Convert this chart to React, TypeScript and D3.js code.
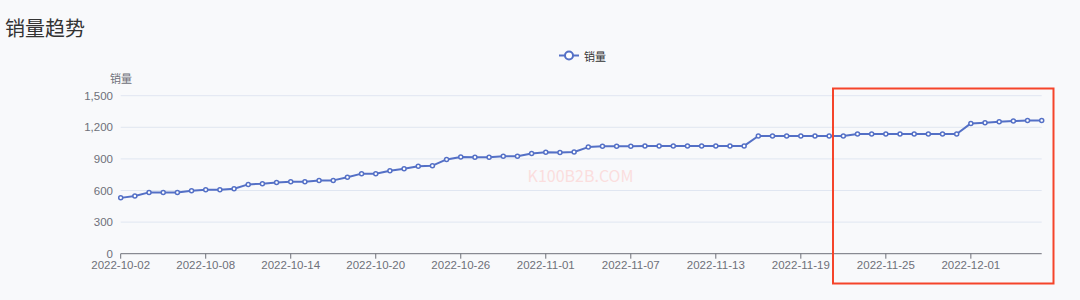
import React from "react";
import * as d3 from "d3";

const dates = [
  "2022-10-02","2022-10-03","2022-10-04","2022-10-05","2022-10-06","2022-10-07","2022-10-08","2022-10-09","2022-10-10","2022-10-11",
  "2022-10-12","2022-10-13","2022-10-14","2022-10-15","2022-10-16","2022-10-17","2022-10-18","2022-10-19","2022-10-20","2022-10-21",
  "2022-10-22","2022-10-23","2022-10-24","2022-10-25","2022-10-26","2022-10-27","2022-10-28","2022-10-29","2022-10-30","2022-10-31",
  "2022-11-01","2022-11-02","2022-11-03","2022-11-04","2022-11-05","2022-11-06","2022-11-07","2022-11-08","2022-11-09","2022-11-10",
  "2022-11-11","2022-11-12","2022-11-13","2022-11-14","2022-11-15","2022-11-16","2022-11-17","2022-11-18","2022-11-19","2022-11-20",
  "2022-11-21","2022-11-22","2022-11-23","2022-11-24","2022-11-25","2022-11-26","2022-11-27","2022-11-28","2022-11-29","2022-11-30",
  "2022-12-01","2022-12-02","2022-12-03","2022-12-04","2022-12-05","2022-12-06",
];

const sales = [
  530, 548, 582, 582, 580, 598, 608, 608, 617, 658,
  665, 677, 684, 684, 696, 696, 725, 760, 760, 788,
  807, 830, 836, 895, 918, 916, 916, 925, 925, 952,
  962, 960, 966, 1012, 1020, 1020, 1020, 1023, 1023, 1023,
  1023, 1023, 1023, 1023, 1023, 1117, 1117, 1117, 1117, 1117,
  1117, 1117, 1137, 1137, 1137, 1137, 1137, 1137, 1137, 1137,
  1237, 1244, 1253, 1259, 1265, 1265,
];

const yTicks = [0, 300, 600, 900, 1200, 1500];
const title = "销量趋势";
const seriesName = "销量";

const W = 1080;
const H = 300;
const FONT = "'Noto Sans CJK SC', 'Noto Sans', sans-serif";
const NUM_FONT = "'Liberation Sans', Arial, sans-serif";

export default function App() {
  const x = d3.scalePoint<string>().domain(dates).range([120.7, 1041.7]);
  const y = d3.scaleLinear().domain([0, 1500]).range([253.7, 95.7]);
  const line = d3
    .line<number>()
    .x((_, i) => x(dates[i]) as number)
    .y((d) => y(d));
  const fmt = d3.format(",");
  const xTickDates = dates.filter((_, i) => i % 6 === 0);

  return (
    <svg
      width={W}
      height={H}
      style={{ position: "absolute", left: 0, top: 0, background: "#f8f9fb" }}
      fontFamily={FONT}
    >
      <rect x={0} y={0} width={W} height={H} fill="#f8f9fb" />
      <text x={5} y={36} fontSize={20} fill="#333">
        {title}
      </text>

      {/* legend */}
      <g>
        <line x1={559} x2={579} y1={55.5} y2={55.5} stroke="#5470c6" strokeWidth={2} />
        <circle cx={569} cy={55.5} r={4} fill="#fff" stroke="#5470c6" strokeWidth={2} />
        <text x={584} y={55.5} fontSize={11} fill="#333" dominantBaseline="central">
          {seriesName}
        </text>
      </g>

      {/* y axis name */}
      <text x={121} y={78} fontSize={11} fill="#6e7079" textAnchor="middle" dominantBaseline="central">
        {seriesName}
      </text>

      {/* grid + y labels */}
      {yTicks.map((t) => (
        <g key={t}>
          {t !== 0 && (
            <line x1={120.7} x2={1041.7} y1={y(t)} y2={y(t)} stroke="#e0e6f1" strokeWidth={1} />
          )}
          <text
            x={113}
            y={y(t) + 4}
            fontSize={11.5}
            fontFamily={NUM_FONT}
            fill="#6e7079"
            textAnchor="end"
          >
            {fmt(t)}
          </text>
        </g>
      ))}

      {/* watermark */}
      <text x={580.5} y={182} fontSize={16} fill="#fbdede" textAnchor="middle">
        K100B2B.COM
      </text>

      {/* x axis */}
      <line x1={120.7} x2={1041.7} y1={253.7} y2={253.7} stroke="#6e7079" strokeWidth={1} />
      {xTickDates.map((d) => (
        <g key={d}>
          <line x1={x(d)} x2={x(d)} y1={253.7} y2={258.7} stroke="#6e7079" strokeWidth={1} />
          <text x={x(d)} y={269} fontSize={11.5} fontFamily={NUM_FONT} fill="#6e7079" textAnchor="middle">
            {d}
          </text>
        </g>
      ))}

      {/* series */}
      <path d={line(sales) || ""} fill="none" stroke="#5470c6" strokeWidth={2} strokeLinejoin="round" />
      {sales.map((v, i) => (
        <circle
          key={i}
          cx={x(dates[i])}
          cy={y(v)}
          r={2}
          fill="#fff"
          stroke="#5470c6"
          strokeWidth={1.5}
        />
      ))}

      {/* annotation box */}
      <rect x={833} y={88.5} width={220.5} height={195} fill="none" stroke="#f5442a" strokeWidth={2} />
    </svg>
  );
}
